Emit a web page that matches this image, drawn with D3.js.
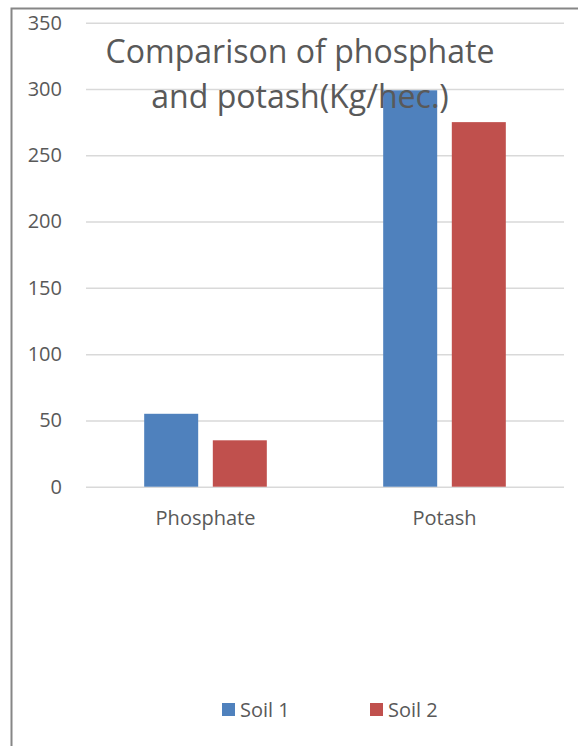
<!DOCTYPE html>
<html>
<head>
<meta charset="utf-8">
<script src="https://cdn.jsdelivr.net/npm/d3@7"></script>
<style>
  body { margin: 0; background: #fff; }
  text { font-family: "Open Sans", "DejaVu Sans", sans-serif; fill: #595959; }
</style>
</head>
<body>
<div id="main"></div>
<script>
// chart data
let categories = ["Phosphate", "Potash"]
let seriesNames = ["Soil 1", "Soil 2"]
let soil1 = [55, 299]
let soil2 = [35, 275]
let yTicks = [0, 50, 100, 150, 200, 250, 300, 350]
let titleLines = ["Comparison of phosphate", "and potash(Kg/hec.)"]
let colors = ["#4f81bd", "#c0504d"]

let W = 578, H = 746
let plot = {left: 86, right: 564, top: 22.7, bottom: 486.7}
let labelSize = "20px"

let svg = d3.select("#main")
    .append("svg")
    .attr("width", W)
    .attr("height", H)

// chart border (only left and top edges are in view)
svg.append("path")
    .attr("d", "M11.5," + H + "V8.5H" + W)
    .attr("fill", "none")
    .attr("stroke", "#868686")
    .attr("stroke-width", 2)

let y = d3.scaleLinear()
    .domain([0, 350])
    .range([plot.bottom, plot.top])

let x0 = d3.scaleBand()
    .domain(categories)
    .range([plot.left, plot.right])

let x1 = d3.scaleBand()
    .domain(seriesNames)
    .range([0, x0.bandwidth()])
    .paddingInner(0.213)
    .paddingOuter(0.848)

// gridlines + tick labels
let yAxis = svg.append("g")
    .attr("transform", "translate(" + plot.left + ",0)")
    .call(d3.axisLeft(y).tickValues(yTicks).tickSize(-(plot.right - plot.left)).tickPadding(24))

yAxis.select(".domain").remove()
yAxis.selectAll(".tick line")
    .attr("stroke", "#d9d9d9")
    .attr("stroke-width", 1.5)
yAxis.selectAll(".tick text")
    .attr("font-size", labelSize)
    .attr("font-family", null)
    .attr("fill", "#595959")

// bars
let data = categories.map((c, i) => ({cat: c, values: [soil1[i], soil2[i]]}))

svg.append("g")
    .selectAll("g")
    .data(data)
    .enter()
    .append("g")
    .attr("transform", d => "translate(" + x0(d.cat) + ",0)")
    .selectAll("rect")
    .data(d => d.values.map((v, j) => ({name: seriesNames[j], value: v, j: j})))
    .enter()
    .append("rect")
    .attr("x", d => x1(d.name))
    .attr("y", d => y(d.value))
    .attr("width", x1.bandwidth())
    .attr("height", d => y(0) - y(d.value))
    .attr("fill", d => colors[d.j])

// category labels
let xAxis = svg.append("g")
    .attr("transform", "translate(0," + plot.bottom + ")")
    .call(d3.axisBottom(x0).tickSize(0).tickPadding(24))
xAxis.select(".domain").remove()
xAxis.selectAll(".tick text")
    .attr("font-size", labelSize)
    .attr("font-family", null)
    .attr("fill", "#595959")

// title, drawn over the bars like the original
let title = svg.append("g")
titleLines.forEach((t, i) => {
    let txt = title.append("text")
        .attr("x", 300)
        .attr("y", 63 + i * 44.5)
        .attr("text-anchor", "middle")
        .attr("font-size", "30px")
        .text(t)
    // fit width of first line to ~389px
    if (i === 0) {
        let w = txt.node().getComputedTextLength()
        title.attr("data-scale", 389 / w)
    }
})
let s = +title.attr("data-scale")
title.selectAll("text").attr("font-size", (30 * s) + "px")

// legend
let legend = svg.append("g")
    .selectAll("g")
    .data(seriesNames)
    .enter()
    .append("g")
    .attr("transform", (d, i) => "translate(" + (222 + i * 148) + ",703)")

legend.append("rect")
    .attr("width", 13)
    .attr("height", 13)
    .attr("fill", (d, i) => colors[i])

legend.append("text")
    .attr("x", 18)
    .attr("y", 13.5)
    .attr("font-size", labelSize)
    .text(d => d)
</script>
</body>
</html>
